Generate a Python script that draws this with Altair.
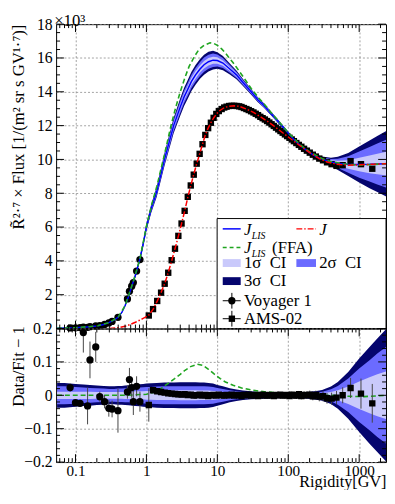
import altair as alt
import pandas as pd

FONT = "Liberation Serif"
W, H1, H2 = 336, 310, 136
XDOM = [0.0533, 2390]

NAVY = "#05056e"
MID = "#6b6bff"
LIGHT = "#c9c9fb"
BLUE = "#0000ff"
GREEN = "#1fa51f"
RED = "#ff0000"
NB = "\u00a0"

fit_R = [0.055, 0.07, 0.1, 0.13, 0.16, 0.2, 0.25, 0.3, 0.35, 0.4,
         0.45, 0.5, 0.56, 0.65, 0.7, 0.81, 0.9, 1.0, 1.17, 1.4,
         1.8, 2.42, 3.0, 3.4, 3.78, 4.3, 4.93, 5.7, 6.5, 7.5,
         8.7, 10, 12, 15, 18.6, 23, 30, 37, 45, 57,
         70, 85, 100, 125, 150, 200, 250, 300, 400, 500,
         700, 1000, 1400, 1800, 2440]
fit_LIS = [0.015, 0.025, 0.05, 0.075, 0.1, 0.15, 0.24, 0.36, 0.5, 0.68,
           0.95, 1.35, 1.9, 2.75, 3.15, 4.12, 5.0, 6.0, 7.1, 8.1,
           10.0, 12.0, 13.1, 13.7, 14.1, 14.6, 15.0, 15.35, 15.6, 15.78,
           15.87, 15.85, 15.7, 15.35, 15.0, 14.55, 14.0, 13.55, 13.2, 12.72,
           12.3, 11.9, 11.55, 11.1, 10.8, 10.4, 10.15, 10.02, 9.85, 9.77,
           9.7, 9.7, 9.71, 9.73, 9.75]
ci3 = [0.037, 0.037, 0.034, 0.032, 0.031, 0.029, 0.028, 0.027, 0.027, 0.028,
       0.028, 0.029, 0.03, 0.031, 0.032, 0.033, 0.034, 0.035, 0.036, 0.037,
       0.038, 0.038, 0.039, 0.039, 0.039, 0.039, 0.039, 0.038, 0.038, 0.037,
       0.035, 0.031, 0.027, 0.021, 0.017, 0.014, 0.012, 0.011, 0.01, 0.009,
       0.0085, 0.008, 0.008, 0.0085, 0.009, 0.011, 0.013, 0.016, 0.026, 0.04,
       0.07, 0.11, 0.145, 0.17, 0.2]
ci2 = [0.027, 0.027, 0.025, 0.023, 0.022, 0.021, 0.02, 0.019, 0.019, 0.02,
       0.02, 0.021, 0.021, 0.022, 0.023, 0.023, 0.024, 0.025, 0.025, 0.026,
       0.027, 0.027, 0.027, 0.027, 0.027, 0.027, 0.027, 0.027, 0.027, 0.026,
       0.025, 0.022, 0.019, 0.015, 0.012, 0.01, 0.0085, 0.0078, 0.007, 0.0064,
       0.006, 0.0057, 0.0057, 0.006, 0.0064, 0.0078, 0.0092, 0.011, 0.018, 0.028,
       0.05, 0.08, 0.105, 0.125, 0.146]
ci1 = [0.011, 0.011, 0.011, 0.011, 0.011, 0.01, 0.01, 0.01, 0.01, 0.01,
       0.01, 0.011, 0.011, 0.011, 0.012, 0.012, 0.012, 0.013, 0.013, 0.014,
       0.014, 0.014, 0.015, 0.015, 0.015, 0.015, 0.015, 0.014, 0.014, 0.014,
       0.013, 0.012, 0.01, 0.008, 0.0065, 0.0052, 0.0045, 0.004, 0.0037, 0.0034,
       0.0032, 0.003, 0.003, 0.0032, 0.0034, 0.004, 0.0048, 0.006, 0.0096, 0.015,
       0.026, 0.041, 0.054, 0.063, 0.072]

ffa_R = [0.055, 0.1, 0.2, 0.3, 0.4, 0.5, 0.65, 0.81, 1.0, 1.2,
         1.4, 1.8, 2.22, 2.6, 3.0, 3.5, 4.0, 4.77, 5.5, 6.5,
         7.9, 9.0, 10, 11.5, 13, 14.7, 16.5, 18.6, 23, 30,
         38, 46, 57, 70, 100, 150, 200, 300, 400, 600,
         1000, 1500, 2440]
ffa_val = [0.015, 0.05, 0.15, 0.36, 0.68, 1.35, 2.75, 4.12, 6.05, 7.4,
           8.4, 10.3, 12.0, 13.1, 14.0, 14.85, 15.5, 16.1, 16.5, 16.75,
           16.9, 16.85, 16.75, 16.54, 16.3, 16.0, 15.75, 15.45, 14.9, 14.2,
           13.65, 13.27, 12.78, 12.35, 11.58, 10.85, 10.45, 10.05, 9.87, 9.74,
           9.66, 9.7, 9.75]

ffa_res_R = [0.055, 0.5, 1.0, 1.3, 1.6, 2.0, 2.5, 3.0, 3.5, 4.2,
             5.2, 6.2, 7.5, 9.0, 11, 13, 16.7, 22, 30, 48.5,
             80, 140, 250, 400, 700, 1170, 1700, 2440]
ffa_res = [0.0, 0.0, 0.003, 0.01, 0.02, 0.035, 0.05, 0.063, 0.075, 0.086,
           0.093, 0.09, 0.078, 0.064, 0.05, 0.04, 0.03, 0.022, 0.016, 0.01,
           0.007, 0.005, 0.002, 0.0, -0.003, -0.004, -0.002, 0.0]

mod_R = [0.3, 0.4, 0.5, 0.6, 0.7, 0.8, 0.9, 1.0, 1.08, 1.24,
         1.42, 1.61, 1.81, 2.03, 2.27, 2.53, 2.82, 3.13, 3.46, 3.83,
         4.22, 4.65, 5.12, 5.63, 6.18, 6.77, 7.42, 8.11, 8.86, 9.67,
         10.5, 12.5, 14.7, 17.3, 20.3, 25.7, 32.3, 40.4, 50.3, 62.5,
         77.6, 96.4, 120, 153, 201, 274, 352, 479, 700, 1000,
         1500, 2440]
mod_val = [0.0, 0.05, 0.13, 0.25, 0.37, 0.49, 0.6, 0.7, 0.79, 1.13,
           1.62, 2.13, 2.66, 3.3, 4.0, 4.72, 5.45, 6.2, 6.95, 7.75,
           8.45, 9.12, 9.75, 10.32, 10.9, 11.45, 11.85, 12.17, 12.45, 12.68,
           12.85, 13.06, 13.15, 13.17, 13.14, 12.98, 12.78, 12.53, 12.27, 11.98,
           11.68, 11.38, 11.08, 10.75, 10.4, 10.05, 9.85, 9.72, 9.66, 9.68,
           9.71, 9.75]

ams_R = [1.08, 1.24, 1.42, 1.61, 1.81, 2.03, 2.27, 2.53, 2.82, 3.13,
         3.46, 3.83, 4.22, 4.65, 5.12, 5.63, 6.18, 6.77, 7.42, 8.11,
         8.86, 9.67, 10.5, 11.5, 12.5, 13.5, 14.7, 15.9, 17.3, 18.7,
         20.3, 21.9, 23.7, 25.7, 27.7, 29.9, 32.3, 34.8, 37.5, 40.4,
         43.5, 46.8, 50.3, 54.1, 58.2, 62.5, 67.2, 72.3, 77.6, 83.4,
         89.7, 96.4, 104, 112, 120, 130, 141, 153, 167, 183,
         201, 222, 245, 274, 309, 352, 408, 479, 585, 756,
         1060, 1530]
ams_val = [0.77, 1.15, 1.63, 2.12, 2.65, 3.3, 4.04, 4.72, 5.48, 6.21,
           6.96, 7.79, 8.46, 9.1, 9.75, 10.33, 10.9, 11.45, 11.85, 12.17,
           12.46, 12.69, 12.86, 12.98, 13.07, 13.12, 13.16, 13.17, 13.17, 13.16,
           13.14, 13.1, 13.04, 12.98, 12.92, 12.85, 12.78, 12.7, 12.62, 12.52,
           12.44, 12.36, 12.27, 12.18, 12.08, 11.98, 11.88, 11.78, 11.68, 11.58,
           11.48, 11.38, 11.28, 11.18, 11.08, 10.97, 10.86, 10.75, 10.63, 10.52,
           10.4, 10.28, 10.17, 10.05, 9.95, 9.83, 9.72, 9.62, 9.66, 9.9,
           9.72, 9.45]
ams_res = [-0.029, 0.015, 0.012, 0.01, 0.008, 0.006, 0.005, 0.004, 0.003, 0.002,
           0.003, 0.001, 0.002, -0.001, 0.0, 0.002, -0.001, 0.001, -0.002, 0.0,
           0.001, -0.001, 0.002, 0.0, -0.001, 0.001, 0.0, 0.002, -0.001, 0.001,
           0.0, -0.002, 0.001, 0.0, 0.002, -0.001, 0.0, 0.001, -0.002, 0.0,
           0.002, 0.0, -0.001, 0.001, 0.0, -0.002, 0.001, 0.0, 0.002, -0.001,
           0.0, 0.001, -0.002, 0.002, 0.0, -0.001, 0.003, -0.002, 0.001, 0.0,
           0.002, -0.003, 0.001, -0.004, -0.003, -0.009, -0.01, -0.007, 0.0, 0.022,
           0.005, -0.024]
ams_err = [0.05, 0.008, 0.006, 0.005, 0.005, 0.004, 0.004, 0.004, 0.004, 0.004,
           0.004, 0.004, 0.004, 0.004, 0.004, 0.004, 0.004, 0.004, 0.004, 0.004,
           0.004, 0.004, 0.004, 0.004, 0.004, 0.004, 0.004, 0.004, 0.004, 0.004,
           0.004, 0.004, 0.004, 0.004, 0.004, 0.004, 0.004, 0.005, 0.005, 0.005,
           0.005, 0.005, 0.005, 0.006, 0.006, 0.006, 0.006, 0.007, 0.007, 0.007,
           0.008, 0.008, 0.008, 0.009, 0.009, 0.01, 0.01, 0.01, 0.011, 0.011,
           0.012, 0.012, 0.013, 0.014, 0.015, 0.016, 0.018, 0.02, 0.024, 0.03,
           0.045, 0.058]

voy_R = [0.084, 0.1, 0.116, 0.129, 0.148, 0.16, 0.193, 0.22, 0.257, 0.295,
         0.328, 0.397, 0.54, 0.576, 0.62, 0.654, 0.727, 0.81]
voy_val = [0.035, 0.045, 0.055, 0.085, 0.07, 0.11, 0.16, 0.17, 0.24, 0.33,
           0.42, 0.66, 1.75, 2.2, 2.5, 2.72, 3.4, 4.08]
voy_res = [0.023, -0.022, -0.024, 0.188, -0.032, 0.106, 0.145, -0.004, -0.019, -0.039,
           -0.041, -0.046, 0.01, 0.047, 0.023, -0.019, 0.027, -0.019]
voy_err = [0.012, 0.01, 0.01, 0.06, 0.055, 0.055, 0.045, 0.015, 0.02, 0.025,
           0.025, 0.066, 0.02, 0.035, 0.03, 0.04, 0.03, 0.03]

x_major = [0.1, 1, 10, 100, 1000]
x_minor = [m * d for d in [0.01, 0.1, 1, 10, 100, 1000] for m in range(2, 10)
           if XDOM[0] <= m * d <= XDOM[1]]
y1_labels = [2, 4, 6, 8, 10, 12, 14, 16, 18]
y1_major = [0] + y1_labels
y1_minor = [k * 0.5 for k in range(37) if k % 4 != 0]
y2_major = [-0.2, -0.1, 0, 0.1, 0.2]
y2_minor = [round(-0.2 + k * 0.02, 2) for k in range(21) if k % 5 != 0]

fit = pd.DataFrame({"R": fit_R, "J": fit_LIS, "o1": ci1, "o2": ci2, "o3": ci3})
for k in ("1", "2", "3"):
    fit["lo" + k] = fit["J"] * (1 - fit["o" + k])
    fit["hi" + k] = fit["J"] * (1 + fit["o" + k])
    fit["rlo" + k] = -fit["o" + k]
ffa = pd.DataFrame({"R": ffa_R, "v": ffa_val})
ffar = pd.DataFrame({"R": ffa_res_R, "v": ffa_res})
mod = pd.DataFrame({"R": mod_R, "v": mod_val})
ams = pd.DataFrame({"R": ams_R, "v": ams_val, "res": ams_res, "err": ams_err})
ams["lo"] = ams["res"] - ams["err"]
ams["hi"] = ams["res"] + ams["err"]
voy = pd.DataFrame({"R": voy_R, "v": voy_val, "res": voy_res, "err": voy_err})
voy["lo"] = voy["res"] - voy["err"]
voy["hi"] = voy["res"] + voy["err"]

xs = alt.Scale(type="log", domain=XDOM, nice=False)
ys1 = alt.Scale(domain=[0, 18], nice=False, zero=False)
ys2 = alt.Scale(domain=[-0.2, 0.2], nice=False, zero=False)

YT1 = "R\u0303²·⁷ × Flux [1/(m² sr s GV¹·⁷)]"
YT2 = "Data/Fit − 1"

AX_X_TOP = alt.Axis(values=x_major, labels=False, ticks=False, domain=False,
                    grid=True, title=None)
AX_Y_TOP = alt.Axis(values=y1_labels, format="d", grid=True, title=YT1,
                    titleAngle=270, titleAlign="right", titleBaseline="alphabetic",
                    titleX=-33, titleY=0, labelFlush=False, labelOverlap=False)
AX_X_BOT = alt.Axis(values=x_major, format="~g", grid=True, title="Rigidity[GV]",
                    titleAnchor="end", titleAlign="right", titleX=W, titleY=25,
                    titleBaseline="alphabetic", titleFontSize=16.5,
                    labelFontSize=15.5, labelPadding=2,
                    labelFlush=False, labelOverlap=False)
AX_Y_BOT = alt.Axis(values=y2_major, format="~g", grid=True, title=YT2,
                    titleAngle=270, titleAlign="right", titleBaseline="alphabetic",
                    titleX=-33, titleY=-3, labelFlush=False, labelOverlap=False)


class Panel:
    def __init__(self, ysc, ax_x, ax_y, H):
        self.ysc, self.ax_x, self.ax_y, self.H = ysc, ax_x, ax_y, H

    def X(self, f="R"):
        return alt.X(f"{f}:Q", scale=xs, axis=self.ax_x)

    def Y(self, f):
        return alt.Y(f"{f}:Q", scale=self.ysc, axis=self.ax_y)

    def ticks(self, majors, minors):
        out = []
        H = self.H
        for vals, L in ((x_major, 8), (x_minor, 4)):
            d = pd.DataFrame({"R": vals})
            out.append(alt.Chart(d).mark_rule(color="black", strokeWidth=1).encode(
                x=self.X(), y=alt.value(0), y2=alt.value(L)))
            out.append(alt.Chart(d).mark_rule(color="black", strokeWidth=1).encode(
                x=self.X(), y=alt.value(H), y2=alt.value(H - L)))
        for vals, L in ((majors, 8), (minors, 4)):
            d = pd.DataFrame({"t": vals})
            out.append(alt.Chart(d).mark_rule(color="black", strokeWidth=1).encode(
                y=self.Y("t"), x=alt.value(0), x2=alt.value(L)))
            out.append(alt.Chart(d).mark_rule(color="black", strokeWidth=1).encode(
                y=self.Y("t"), x=alt.value(W), x2=alt.value(W - L)))
        return out


one = pd.DataFrame({"k": [0]})


def hline(x1, x2, y, color, dash=None, width=1.5):
    kw = dict(color=color, strokeWidth=width)
    if dash:
        kw["strokeDash"] = dash
    return alt.Chart(one).mark_rule(**kw).encode(
        x=alt.value(x1), x2=alt.value(x2), y=alt.value(y))


def vline(x, y1, y2, color="black"):
    return alt.Chart(one).mark_rule(color=color, strokeWidth=1).encode(
        x=alt.value(x), y=alt.value(y1), y2=alt.value(y2))


def box(x1, x2, y1, y2, fill, stroke=None):
    kw = dict(fill=fill)
    if stroke:
        kw.update(stroke=stroke, strokeWidth=1)
    return alt.Chart(one).mark_rect(**kw).encode(
        x=alt.value(x1), x2=alt.value(x2), y=alt.value(y1), y2=alt.value(y2))


def txt(s, x, y, size=17, italic=False, baseline="middle"):
    return alt.Chart(one).mark_text(
        text=s, align="left", baseline=baseline, font=FONT, fontSize=size,
        fontStyle="italic" if italic else "normal", color="black").encode(
        x=alt.value(x), y=alt.value(y))


def marker(x, y, shape, size):
    return alt.Chart(one).mark_point(shape=shape, filled=True, size=size,
                                     color="black", opacity=1).encode(
        x=alt.value(x), y=alt.value(y))


# ---------------- top panel ----------------
P1 = Panel(ys1, AX_X_TOP, AX_Y_TOP, H1)
top_layers = [
    alt.Chart(fit).mark_area(color=NAVY, clip=True).encode(x=P1.X(), y=P1.Y("lo3"), y2="hi3:Q"),
    alt.Chart(fit).mark_area(color=MID, clip=True).encode(x=P1.X(), y=P1.Y("lo2"), y2="hi2:Q"),
    alt.Chart(fit).mark_area(color=LIGHT, clip=True).encode(x=P1.X(), y=P1.Y("lo1"), y2="hi1:Q"),
    alt.Chart(voy).mark_point(shape="circle", filled=True, size=55, color="black",
                              opacity=1).encode(x=P1.X(), y=P1.Y("v")),
    alt.Chart(ams).mark_point(shape="square", filled=True, size=42, color="black",
                              opacity=1).encode(x=P1.X(), y=P1.Y("v")),
    alt.Chart(fit).mark_line(color=BLUE, strokeWidth=1.5, clip=True).encode(x=P1.X(), y=P1.Y("J")),
    alt.Chart(ffa).mark_line(color=GREEN, strokeWidth=1.6, strokeDash=[5, 3],
                             clip=True).encode(x=P1.X(), y=P1.Y("v")),
    alt.Chart(mod).mark_line(color=RED, strokeWidth=1.5, strokeDash=[6, 2, 1.5, 2],
                             clip=True).encode(x=P1.X(), y=P1.Y("v")),
]
top_layers += P1.ticks(y1_major, y1_minor)

LX1, LX2, LT = 169.7, 188, 191.3
RX1, RX2, RT = 244.7, 264.7, 268
rows = [208.5, 227.5, 243.3, 261.7, 281.7, 300]
legend = [
    box(164, W, 198, H1, "white", "black"),
    hline(LX1, LX2, rows[0], BLUE),
    txt("J", LT, rows[0] + 1, italic=True),
    txt("LIS", LT + 8, rows[0] + 7, size=10, italic=True),
    hline(RX1, RX2, rows[0], RED, [6, 2, 1.5, 2]),
    txt("J", RT, rows[0] + 1, italic=True),
    hline(LX1, LX2, rows[1], GREEN, [4, 3]),
    txt("J", LT, rows[1] + 1, italic=True),
    txt("LIS", LT + 8, rows[1] + 7, size=10, italic=True),
    txt("(FFA)", 220, rows[1] + 1),
    box(LX1, LX2, rows[2] - 4, rows[2] + 4, LIGHT),
    txt("1σ" + NB + NB + "CI", LT, rows[2]),
    box(RX1, RX2, rows[2] - 4, rows[2] + 4, MID),
    txt("2σ" + NB + NB + "CI", RT, rows[2]),
    box(LX1, LX2, rows[3] - 4, rows[3] + 4, NAVY),
    txt("3σ" + NB + NB + "CI", LT, rows[3]),
    hline(LX1, LX2, rows[4], "black", width=1),
    vline(179, rows[4] - 8, rows[4] + 8),
    marker(179, rows[4], "circle", 55),
    txt("Voyager 1", LT, rows[4]),
    hline(LX1, LX2, rows[5], "black", width=1),
    vline(179, rows[5] - 8, rows[5] + 8),
    marker(179, rows[5], "square", 42),
    txt("AMS-02", LT, rows[5]),
    txt("×10³", -2, 1.5, baseline="alphabetic"),
]
top = alt.layer(*(top_layers + legend)).properties(width=W, height=H1)

# ---------------- bottom panel ----------------
P2 = Panel(ys2, AX_X_BOT, AX_Y_BOT, H2)
bot_layers = [
    alt.Chart(fit).mark_area(color=NAVY, clip=True).encode(x=P2.X(), y=P2.Y("rlo3"), y2="o3:Q"),
    alt.Chart(fit).mark_area(color=MID, clip=True).encode(x=P2.X(), y=P2.Y("rlo2"), y2="o2:Q"),
    alt.Chart(fit).mark_area(color=LIGHT, clip=True).encode(x=P2.X(), y=P2.Y("rlo1"), y2="o1:Q"),
    alt.Chart(ffar).mark_line(color=GREEN, strokeWidth=1.6, strokeDash=[5, 3],
                              clip=True).encode(x=P2.X(), y=P2.Y("v")),
    alt.Chart(voy).mark_rule(color="#444444", strokeWidth=1, clip=True).encode(
        x=P2.X(), y=P2.Y("lo"), y2="hi:Q"),
    alt.Chart(ams).mark_rule(color="#444444", strokeWidth=1, clip=True).encode(
        x=P2.X(), y=P2.Y("lo"), y2="hi:Q"),
    alt.Chart(voy).mark_point(shape="circle", filled=True, size=55, color="black",
                              opacity=1, clip=True).encode(x=P2.X(), y=P2.Y("res")),
    alt.Chart(ams).mark_point(shape="square", filled=True, size=42, color="black",
                              opacity=1, clip=True).encode(x=P2.X(), y=P2.Y("res")),
]
bot_layers += P2.ticks(y2_major, y2_minor)
bottom = alt.layer(*bot_layers).properties(width=W, height=H2)

chart = alt.vconcat(top, bottom, spacing=0, bounds="flush").properties(
    padding={"left": 1, "top": -1, "right": 0, "bottom": -5}
).configure_view(stroke="black", strokeWidth=1).configure_axis(
    labelFont=FONT, labelFontSize=16, titleFont=FONT, titleFontSize=17,
    titleFontWeight="normal", labelColor="black", titleColor="black",
    gridColor="#8a8a8a", gridDash=[2, 2], gridWidth=0.8, domain=False,
    ticks=False, labelPadding=4, labelOverlap=False)

chart.save("out.html", embed_options={"renderer": "svg", "actions": False})
